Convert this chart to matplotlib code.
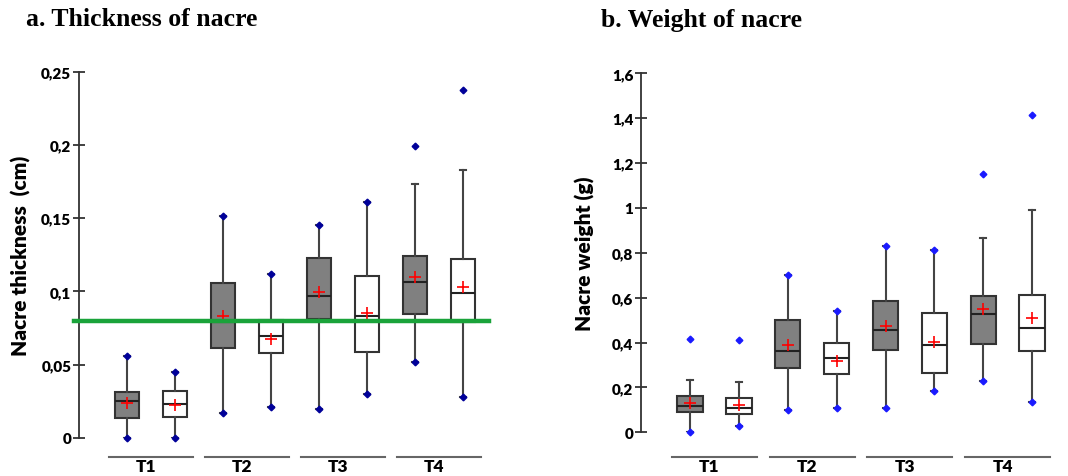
import matplotlib.pyplot as plt
import matplotlib.transforms as mtransforms

# groups (each group: grey box then white box)
groups = ['T1', 'T2', 'T3', 'T4']

# a. nacre thickness (cm)
thick_q1 = [0.0132, 0.0139, 0.0612, 0.0576, 0.081, 0.0583, 0.0845, 0.0792]
thick_med = [0.025, 0.0232, 0.0792, 0.0692, 0.097, 0.0829, 0.1063, 0.0986]
thick_q3 = [0.031, 0.0316, 0.1054, 0.0805, 0.1225, 0.1107, 0.1239, 0.1218]
thick_mean = [0.0235, 0.0223, 0.0833, 0.0674, 0.0993, 0.0852, 0.110, 0.1031]
thick_whislo = [0.0, 0.0, 0.0168, 0.0207, 0.0194, 0.0298, 0.0519, 0.0278]
thick_whishi = [0.056, 0.0451, 0.1517, 0.1118, 0.1455, 0.1607, 0.1733, 0.1826]
thick_min = [0.0, 0.0, 0.0168, 0.0207, 0.0194, 0.0298, 0.0519, 0.0278]
thick_max = [0.056, 0.0451, 0.1517, 0.1118, 0.1455, 0.1607, 0.199, 0.2377]
thick_ref = 0.08
thick_ticks = [0, 0.05, 0.1, 0.15, 0.2, 0.25]
thick_ticklabels = ['0', '0,05', '0,1', '0,15', '0,2', '0,25']

# b. nacre weight (g)
w_q1 = [0.0921, 0.0817, 0.285, 0.26, 0.3655, 0.266, 0.3922, 0.361]
w_med = [0.1189, 0.1084, 0.361, 0.331, 0.4576, 0.3877, 0.5289, 0.4665]
w_q3 = [0.1634, 0.153, 0.502, 0.397, 0.587, 0.532, 0.6076, 0.6135]
w_mean = [0.129, 0.1218, 0.391, 0.319, 0.472, 0.404, 0.5497, 0.508]
w_whislo = [0.0, 0.0297, 0.101, 0.107, 0.107, 0.1827, 0.2288, 0.1367]
w_whishi = [0.2347, 0.2258, 0.701, 0.539, 0.829, 0.8126, 0.8646, 0.9909]
w_min = [0.0, 0.0297, 0.101, 0.107, 0.107, 0.1827, 0.2288, 0.1367]
w_max = [0.416, 0.4115, 0.701, 0.539, 0.829, 0.8126, 1.1528, 1.4158]
w_ticks = [0, 0.2, 0.4, 0.6, 0.8, 1.0, 1.2, 1.4, 1.6]
w_ticklabels = ['0', '0,2', '0,4', '0,6', '0,8', '1', '1,2', '1,4', '1,6']

EDGE = '#333333'
SANS = 'Lato'
WEIGHT = 'heavy'


def panel(fig, rect, q1, med, q3, mean, whislo, whishi, vmin, vmax,
          ticks, ticklabels, ylim, ylabel, title, title_x, ylabel_x, dotcolor):
    ax = fig.add_axes(rect)
    pos = list(range(1, 9))
    stats = []
    for i in range(8):
        stats.append({'q1': q1[i], 'med': med[i], 'q3': q3[i], 'mean': mean[i],
                      'whislo': whislo[i], 'whishi': whishi[i], 'fliers': []})
    bp = ax.bxp(stats, positions=pos, widths=0.52, patch_artist=True,
                showmeans=True, showfliers=False, manage_ticks=False,
                capwidths=0.12,
                boxprops=dict(edgecolor=EDGE, linewidth=1.5),
                medianprops=dict(color='#222222', linewidth=1.5),
                whiskerprops=dict(color='#444444', linewidth=1.5),
                capprops=dict(color='#444444', linewidth=1.5),
                meanprops=dict(marker='+', markeredgecolor='red',
                               markersize=9, markeredgewidth=1.2))
    for i, box in enumerate(bp['boxes']):
        box.set_facecolor('#808080' if i % 2 == 0 else 'white')
    ax.plot(pos, vmin, 'D', color=dotcolor, markersize=3.4, clip_on=False, zorder=5)
    ax.plot(pos, vmax, 'D', color=dotcolor, markersize=3.4, clip_on=False, zorder=5)

    ax.set_xlim(0, 8.8)
    ax.set_ylim(*ylim)
    ax.set_yticks(ticks)
    ax.set_yticklabels(ticklabels, fontfamily=SANS, fontweight=WEIGHT, fontsize=11)
    ax.tick_params(axis='y', direction='inout', length=8, width=1.3, color=EDGE, pad=1.5)
    ax.set_xticks([])
    for s in ['top', 'right', 'bottom']:
        ax.spines[s].set_visible(False)
    ax.spines['left'].set_color(EDGE)
    ax.spines['left'].set_linewidth(1.3)

    # group lines and labels under the axis
    tr = mtransforms.blended_transform_factory(ax.transData, fig.transFigure)
    for g, name in enumerate(groups):
        c = 1.5 + 2 * g
        ax.plot([c - 0.87, c + 0.87], [1 - 458 / 477] * 2, color='#666666', lw=1.5,
                transform=tr, clip_on=False)
        ax.text(c - 0.1, 1 - 467 / 477, name, transform=tr, ha='center', va='center',
                fontfamily=SANS, fontweight=WEIGHT, fontsize=12.5)

    fig.text(ylabel_x, rect[1] + rect[3] / 2, ylabel, rotation=90, ha='center',
             va='center', fontfamily=SANS, fontweight=WEIGHT, fontsize=15)
    fig.text(title_x, 1 - 20 / 477, title, ha='left', va='center',
             fontfamily='Liberation Serif', fontweight='bold', fontsize=18.5)
    return ax


fig = plt.figure(figsize=(10.68, 4.77), dpi=100)

ax1 = panel(fig, [79 / 1068, 38.3 / 477, 8.8 * 48 / 1068, 366 / 477],
            thick_q1, thick_med, thick_q3, thick_mean, thick_whislo, thick_whishi,
            thick_min, thick_max, thick_ticks, thick_ticklabels, (0, 0.25),
            'Nacre thickness  (cm)', 'a. Thickness of nacre', 26 / 1068, 21 / 1068,
            '#000099')
tr = mtransforms.blended_transform_factory(ax1.transAxes, ax1.transData)
ax1.plot([-0.012, 0.97], [thick_ref, thick_ref], color='#1aa33a', lw=3.2,
         transform=tr, clip_on=False, zorder=4)

ax2 = panel(fig, [641 / 1068, 43.7 / 477, 8.7 * 48.9 / 1068, 359 / 477],
            w_q1, w_med, w_q3, w_mean, w_whislo, w_whishi,
            w_min, w_max, w_ticks, w_ticklabels, (0, 1.6),
            'Nacre weight (g)', 'b. Weight of nacre', 601 / 1068, 585 / 1068,
            '#1a1aff')
ax2.set_xlim(0, 8.7)

fig.savefig('out.png', dpi=100)
